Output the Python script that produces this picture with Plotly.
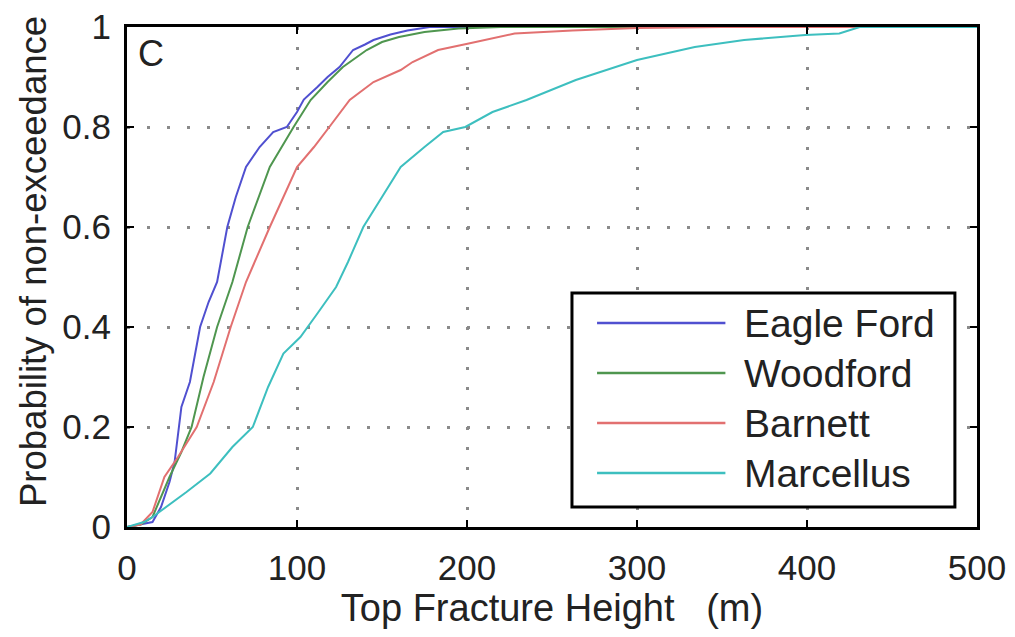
import plotly.graph_objects as go

eagle_ford_x = [0, 8, 15, 20, 25, 28, 29, 32, 37, 43, 48, 53, 59, 64, 70, 78, 86, 94, 100, 104, 112, 118, 125, 133, 140, 145, 155, 165, 178, 200, 300, 500]
eagle_ford_p = [0, 0.005, 0.01, 0.04, 0.09, 0.13, 0.16, 0.24, 0.29, 0.40, 0.45, 0.49, 0.60, 0.66, 0.72, 0.76, 0.79, 0.80, 0.83, 0.855, 0.88, 0.90, 0.92, 0.954, 0.965, 0.974, 0.985, 0.993, 1.0, 1.0, 1.0, 1.0]

woodford_x = [0, 8, 15, 20, 25, 32, 38, 45, 53, 62, 71, 84, 98, 108, 118, 127, 135, 141, 150, 160, 175, 195, 220, 300, 500]
woodford_p = [0, 0.005, 0.02, 0.06, 0.10, 0.15, 0.20, 0.30, 0.40, 0.49, 0.60, 0.72, 0.80, 0.854, 0.89, 0.92, 0.94, 0.954, 0.97, 0.98, 0.99, 0.997, 1.0, 1.0, 1.0]

barnett_x = [0, 8, 15, 22, 30, 41, 51, 61, 70, 84, 100, 110, 119, 131, 145, 161, 168, 183, 201, 228, 262, 300, 350, 500]
barnett_p = [0, 0.005, 0.03, 0.10, 0.14, 0.20, 0.29, 0.40, 0.49, 0.60, 0.72, 0.76, 0.80, 0.854, 0.89, 0.914, 0.93, 0.954, 0.967, 0.987, 0.993, 0.998, 1.0, 1.0]

marcellus_x = [0, 10, 15, 23, 35, 49, 62, 74, 83, 92, 102, 112, 123, 130, 139, 150, 161, 175, 186, 199, 215, 235, 264, 300, 334, 363, 399, 419, 431, 500]
marcellus_p = [0, 0.01, 0.02, 0.04, 0.07, 0.107, 0.16, 0.20, 0.28, 0.347, 0.38, 0.427, 0.48, 0.53, 0.60, 0.66, 0.72, 0.76, 0.79, 0.80, 0.83, 0.854, 0.894, 0.934, 0.96, 0.974, 0.984, 0.987, 1.0, 1.0]

series_names = ["Eagle Ford", "Woodford", "Barnett", "Marcellus"]
series_colors = ["#5050d0", "#4f964f", "#e27070", "#3dbfbf"]

x_ticks = [0, 100, 200, 300, 400, 500]
y_ticks = [0, 0.2, 0.4, 0.6, 0.8, 1]
y_tick_text = ["0", "0.2", "0.4", "0.6", "0.8", "1"]

xs = [eagle_ford_x, woodford_x, barnett_x, marcellus_x]
ps = [eagle_ford_p, woodford_p, barnett_p, marcellus_p]

fig = go.Figure()
for name, color, x, p in zip(series_names, series_colors, xs, ps):
    fig.add_trace(go.Scatter(x=x, y=p, mode="lines", name=name, showlegend=False,
                             line=dict(color=color, width=2)))

font_family = "Liberation Sans, Arial, sans-serif"
text_color = "#222222"
axis_common = dict(
    showline=True, linecolor="black", linewidth=3, mirror="ticks",
    ticks="inside", ticklen=7, tickcolor="black", tickwidth=2,
    showgrid=True, gridcolor="#8a8a8a", griddash="3px,17px", gridwidth=2.5,
    zeroline=False, automargin=False,
    tickfont=dict(family=font_family, size=35, color=text_color),
)

fig.update_layout(
    width=1015, height=637,
    margin=dict(l=127, r=38, t=27, b=110),
    paper_bgcolor="white", plot_bgcolor="white",
    xaxis=dict(range=[0, 500], tickvals=x_ticks, ticklabelstandoff=8,
               title=dict(text="Top Fracture Height   (m)",
                          font=dict(family=font_family, size=38, color=text_color),
                          standoff=6),
               **axis_common),
    yaxis=dict(range=[0, 1], tickvals=y_ticks, ticktext=y_tick_text,
               ticklabelstandoff=6, **axis_common),
    showlegend=False,
)

# Y-axis title (placed slightly above centre, as in the original)
fig.add_annotation(x=-0.1106, y=0.532, xref="paper", yref="paper",
                   text="Probability of non-exceedance", textangle=-90,
                   showarrow=False, xanchor="center", yanchor="middle",
                   font=dict(family=font_family, size=36.5, color=text_color))

# Panel letter
fig.add_annotation(x=0.01, y=0.992, xref="paper", yref="paper", text="C",
                   showarrow=False, xanchor="left", yanchor="top",
                   font=dict(family=font_family, size=36, color=text_color))

# Legend box drawn in paper coordinates (long line samples like the original)
fig.add_shape(type="rect", xref="paper", yref="paper",
              x0=0.5235, x1=0.974, y0=0.04, y1=0.468,
              line=dict(color="black", width=3), fillcolor="white", layer="above")
for i, (name, color) in enumerate(zip(series_names, series_colors)):
    yy = 0.408 - 0.1 * i
    fig.add_shape(type="line", xref="paper", yref="paper",
                  x0=0.553, x1=0.704, y0=yy, y1=yy,
                  line=dict(color=color, width=2.5), layer="above")
    fig.add_annotation(x=0.7235, y=yy, xref="paper", yref="paper", text=name,
                       showarrow=False, xanchor="left", yanchor="middle",
                       font=dict(family=font_family, size=39, color=text_color))

fig.write_html("out.html", config={"displayModeBar": False},
               post_script="document.body.style.margin='0';document.body.style.overflow='hidden';")
